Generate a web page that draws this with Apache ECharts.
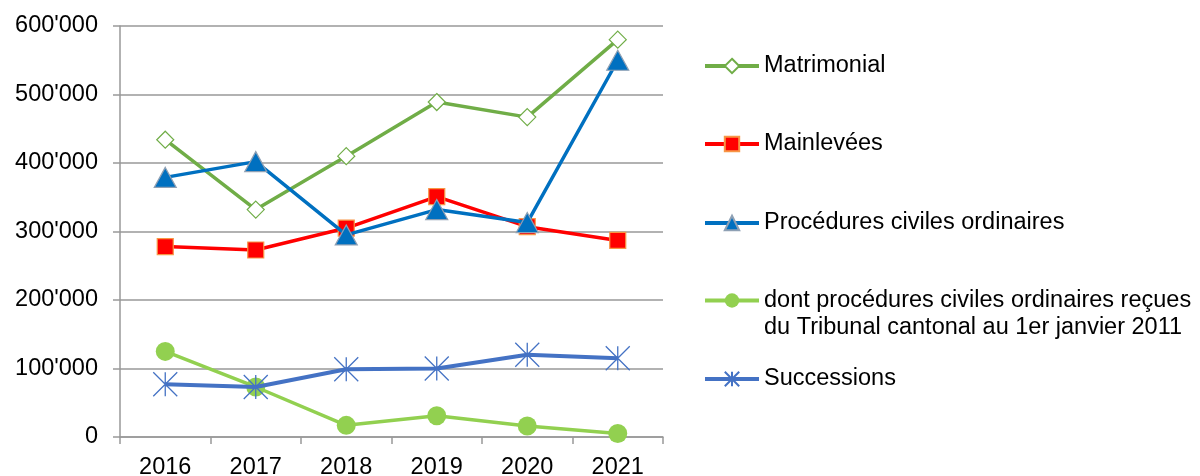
<!DOCTYPE html>
<html><head><meta charset="utf-8">
<script src="https://cdn.jsdelivr.net/npm/echarts@6/dist/echarts.min.js"></script>
<style>html,body{margin:0;padding:0;background:#fff}#c{width:1200px;height:476px}</style>
</head><body><div id="c"></div>
<script>
const categories = ['2016','2017','2018','2019','2020','2021'];
const matrimonial = [434000, 332000, 410000, 489000, 467000, 580000];
const mainlevees = [278000, 273000, 305000, 351000, 307000, 287000];
const proceduresCiviles = [379000, 402000, 295000, 332000, 313000, 550000];
const dontProcedures = [125000, 73000, 17000, 31000, 16000, 5000];
const successions = [77000, 73000, 99000, 100000, 120000, 115000];
const yTicks = {min: 0, max: 600000, interval: 100000};

const names = ['Matrimonial','Mainlevées','Procédures civiles ordinaires',
  'dont procédures civiles ordinaires reçues\ndu Tribunal cantonal au 1er janvier 2011','Successions'];
const FONT = '"Liberation Sans", Arial, sans-serif';
const FS = 23.5;
const star = 'path://M0,0 L20,20 M20,0 L0,20 M10,0 L10,20';

function fmt(v){ return String(v).replace(/\B(?=(\d{3})+(?!\d))/g, "'"); }

function legend(name, top, extra){
  return Object.assign({
    data:[name], left: 703, top: top, padding: 0, orient:'vertical',
    itemWidth: 54, itemHeight: 18, itemGap: 0, selectedMode:false,
    lineStyle:{width:4},
    textStyle:{fontFamily:FONT, fontSize:FS, color:'#000', lineHeight:28}
  }, extra||{});
}

const chart = echarts.init(document.getElementById('c'));
chart.setOption({
  animation:false,
  grid:{left:120, right:537, top:26, bottom:39, containLabel:false, outerBoundsMode:'none'},
  legend:[
    legend(names[0], 52),
    legend(names[1], 130),
    legend(names[2], 209),
    legend(names[3], 260, {textStyle:{fontFamily:FONT, fontSize:FS, color:'#000', lineHeight:27},
      formatter: function(n){ return ' \n' + n; }}),
    legend(names[4], 365)
  ],
  xAxis:{type:'category', data:categories, boundaryGap:true,
    axisLine:{lineStyle:{color:'#999', width:1.5}},
    axisTick:{show:true, length:7, alignWithLabel:false, lineStyle:{color:'#999', width:1.5}},
    axisLabel:{fontFamily:FONT, fontSize:FS, color:'#000', margin:19}},
  yAxis:{type:'value', min:yTicks.min, max:yTicks.max, interval:yTicks.interval,
    axisLine:{show:true, lineStyle:{color:'#999', width:1.5}},
    axisTick:{show:true, length:7, lineStyle:{color:'#999', width:1.5}},
    splitLine:{lineStyle:{color:'#999', width:1.5}},
    axisLabel:{fontFamily:FONT, fontSize:FS, color:'#000', margin:22, formatter:fmt}},
  series:[
    {name:names[0], type:'line', data:matrimonial, symbol:'diamond', symbolSize:[17,17],
      lineStyle:{color:'#70AD47', width:3.5}, itemStyle:{color:'#fff', borderColor:'#70AD47', borderWidth:1.2}, z:3},
    {name:names[1], type:'line', data:mainlevees, symbol:'rect', symbolSize:16,
      lineStyle:{color:'#FF0000', width:3.5}, itemStyle:{color:'#FF0000', borderColor:'#F79646', borderWidth:1.2}, z:2},
    {name:names[2], type:'line', data:proceduresCiviles, symbol:'triangle', symbolSize:[22,20],
      lineStyle:{color:'#0070C0', width:3.5}, itemStyle:{color:'#0070C0', borderColor:'#8EA0B4', borderWidth:1.2}, z:4},
    {name:names[3], type:'line', data:dontProcedures, symbol:'circle', symbolSize:19,
      lineStyle:{color:'#92D050', width:3.5}, itemStyle:{color:'#92D050', borderColor:'#92D050', borderWidth:0}, z:2},
    {name:names[4], type:'line', data:successions, symbol:star, symbolSize:24,
      lineStyle:{color:'#4472C4', width:4}, itemStyle:{color:'#4472C4', borderColor:'#4472C4', borderWidth:1.3}, z:3}
  ]
});
</script></body></html>
